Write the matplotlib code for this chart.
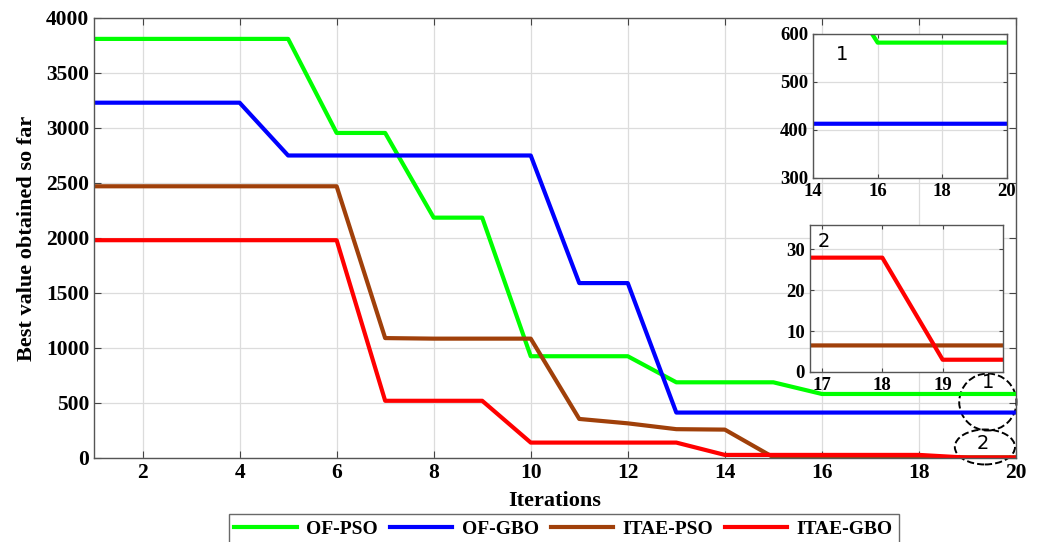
import numpy as np
import matplotlib.pyplot as plt
from matplotlib.patches import Ellipse

# iteration axis and the four convergence curves
iterations = np.arange(1, 21)
of_pso = [3810, 3810, 3810, 3810, 3810, 2955, 2955, 2185, 2185, 925,
          925, 925, 688, 688, 688, 582, 582, 582, 582, 582]
of_gbo = [3230, 3230, 3230, 3230, 2750, 2750, 2750, 2750, 2750, 2750,
          1590, 1590, 413, 413, 413, 413, 413, 413, 413, 413]
itae_pso = [2470, 2470, 2470, 2470, 2470, 2470, 1090, 1085, 1085, 1085,
            355, 315, 262, 258, 6.5, 6.5, 6.5, 6.5, 6.5, 6.5]
itae_gbo = [1980, 1980, 1980, 1980, 1980, 1980, 520, 520, 520, 140,
            140, 140, 140, 28, 28, 28, 28, 28, 3, 3]

labels = ['OF-PSO', 'OF-GBO', 'ITAE-PSO', 'ITAE-GBO']
colors = ['#00ff00', '#0000ff', '#a0400a', '#ff0000']
series = [of_pso, of_gbo, itae_pso, itae_gbo]

plt.rcParams['font.family'] = 'Liberation Serif'
plt.rcParams['font.weight'] = 'bold'


def matlab_style(ax, size):
    ax.grid(True, color='#dcdcdc', linewidth=0.9)
    ax.set_axisbelow(True)
    ax.tick_params(direction='in', top=True, right=True, labelsize=size,
                   color='#444444', length=5)
    for s in ax.spines.values():
        s.set_color('#555555')
        s.set_linewidth(1.0)
    for t in ax.get_xticklabels() + ax.get_yticklabels():
        t.set_fontweight('bold')


fig = plt.figure(figsize=(10.4, 5.42), dpi=100)
ax = fig.add_axes([0.0904, 0.155, 0.8865, 0.8118])
for y, c, lab in zip(series, colors, labels):
    ax.plot(iterations, y, color=c, lw=3, label=lab)
ax.set_xlim(1, 20)
ax.set_ylim(0, 4000)
ax.set_xticks(range(2, 21, 2))
ax.set_yticks(range(0, 4001, 500))
matlab_style(ax, 15.5)
ax.set_xlabel('Iterations', fontsize=16, fontweight='bold', labelpad=6)
ax.set_ylabel('Best value obtained so far', fontsize=16, fontweight='bold', labelpad=6)

# dashed ellipses marking the zoomed regions
ax.add_patch(Ellipse((19.42, 509), 1.18, 518, fill=False, ls='--', lw=1.4,
                     color='black', clip_on=False))
ax.add_patch(Ellipse((19.36, 100), 1.24, 318, fill=False, ls='--', lw=1.4,
                     color='black', clip_on=False))
ax.text(19.42, 682, '1', family='DejaVu Sans', fontweight='normal', fontsize=14,
        ha='center', va='center')
ax.text(19.32, 136, '2', family='DejaVu Sans', fontweight='normal', fontsize=14,
        ha='center', va='center')

# inset 1
ax1 = fig.add_axes([0.7817, 0.6716, 0.1865, 0.2657])
for y, c in zip(series, colors):
    ax1.plot(iterations, y, color=c, lw=3)
ax1.set_xlim(14, 20)
ax1.set_ylim(300, 600)
ax1.set_xticks([14, 16, 18, 20])
ax1.set_yticks([300, 400, 500, 600])
matlab_style(ax1, 13.5)
ax1.tick_params(length=3)
ax1.text(0.12, 0.82, '1', transform=ax1.transAxes, family='DejaVu Sans',
         fontweight='normal', fontsize=14)

# inset 2
ax2 = fig.add_axes([0.7788, 0.3137, 0.1856, 0.2712])
for y, c in zip(series, colors):
    ax2.plot(iterations, y, color=c, lw=3)
ax2.set_xlim(16.8, 20)
ax2.set_ylim(0, 36)
ax2.set_xticks([17, 18, 19])
ax2.set_yticks([0, 10, 20, 30])
matlab_style(ax2, 13.5)
ax2.tick_params(length=3)
ax2.text(0.04, 0.85, '2', transform=ax2.transAxes, family='DejaVu Sans',
         fontweight='normal', fontsize=14)

leg = fig.legend(loc='center', bbox_to_anchor=(0.542, 0.024), ncol=4,
                 prop={'size': 14, 'weight': 'bold'}, fancybox=False,
                 edgecolor='#444444', handlelength=3.2, columnspacing=0.6,
                 borderpad=0.3, handletextpad=0.5)
leg.get_frame().set_linewidth(1.0)

fig.savefig('out.png', dpi=100)
